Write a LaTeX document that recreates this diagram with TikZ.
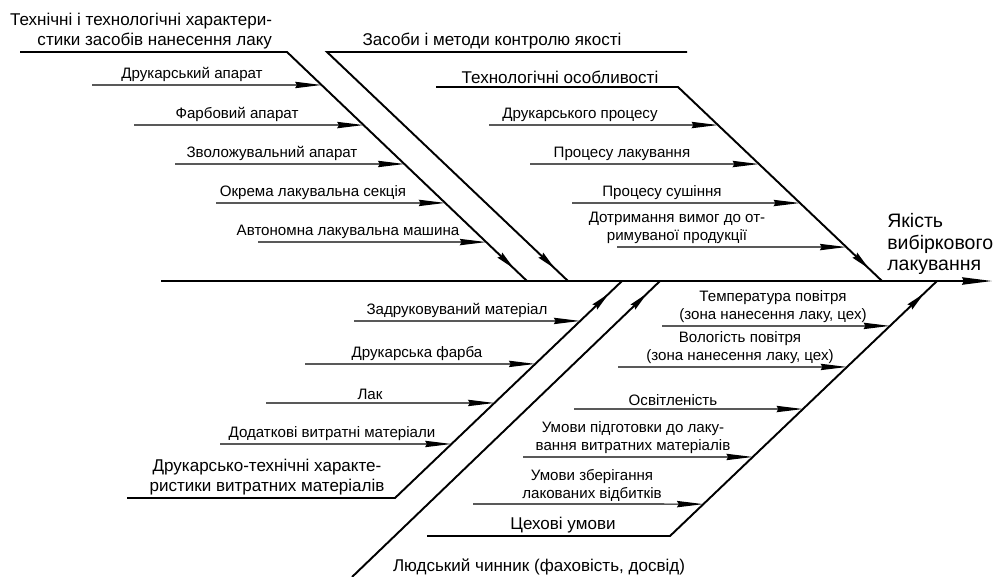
\documentclass[tikz,border=0pt]{standalone}
\usepackage{fontspec}
\setmainfont{Liberation Sans}
\usetikzlibrary{arrows.meta,calc,decorations.markings}

\begin{document}
\begin{tikzpicture}[x=0.02cm,y=-0.02cm]
        \tikzset{myptr/.style={line width=0.7pt,-{Stealth[length=15pt,width=3.6pt,inset=1pt]}},
        midptr/.style={decoration={markings,mark=at position -0.36cm with %
        {\arrow{Stealth[length=11pt,width=3.8pt,inset=1pt]}}},postaction={decorate}},
        bone/.style={line width=1.1pt},
        lbl/.style={anchor=south,inner sep=1.5pt,align=center,font=\fontsize{8.6}{10.2}\selectfont},
        biglbl/.style={anchor=south,inner sep=1.5pt,align=center,font=\fontsize{9.7}{11.3}\selectfont}}

        \useasboundingbox (0,0) rectangle (998,576);

        % spine
        \coordinate (s0) at (161,281);
        \coordinate (s1) at (992,281);
        \draw[line width=0.9pt,-{Stealth[length=17pt,width=4.2pt,inset=1pt]}] (s0) -- (s1);
        \node[anchor=north west,inner sep=0pt,align=left,font=\fontsize{11.1}{12.3}\selectfont] (res) at (887,213) {Якість\\вибіркового\\лакування};

        % upper left bone
        \coordinate (t1h) at (20,52);
        \coordinate (t1a) at (287,52);
        \coordinate (t1b) at (527,281);
        \draw[bone,midptr] (t1h) -- (t1a) -- (t1b);
        \node[biglbl,anchor=south east,align=right] (t1) at (275,52) {Технічні і технологічні характери-\\стики засобів нанесення лаку};
        \coordinate (t1p1) at (92,85);
        \coordinate (t1p2) at (134,125);
        \coordinate (t1p3) at (175,164);
        \coordinate (t1p4) at (216,203);
        \coordinate (t1p5) at (258,242);
        \node[lbl] (t1l1) at (192,85) {Друкарський апарат};
        \node[lbl] (t1l2) at (237,125) {Фарбовий апарат};
        \node[lbl] (t1l3) at (272,164) {Зволожувальний апарат};
        \node[lbl] (t1l4) at (313,203) {Окрема лакувальна секція};
        \node[lbl] (t1l5) at (348,242) {Автономна лакувальна машина};
        \draw[myptr] (t1p1) -- ($(t1a)!0.144!(t1b)$);
        \draw[myptr] (t1p2) -- ($(t1a)!0.319!(t1b)$);
        \draw[myptr] (t1p3) -- ($(t1a)!0.489!(t1b)$);
        \draw[myptr] (t1p4) -- ($(t1a)!0.659!(t1b)$);
        \draw[myptr] (t1p5) -- ($(t1a)!0.830!(t1b)$);

        % quality control bone
        \coordinate (t2h) at (687,52);
        \coordinate (t2a) at (327,52);
        \coordinate (t2b) at (568,281);
        \draw[bone,midptr] (t2h) -- (t2a) -- (t2b);
        \node[biglbl] (t2) at (492,52) {Засоби і методи контролю якості};

        % technology bone
        \coordinate (t3h) at (436,87);
        \coordinate (t3a) at (678,87);
        \coordinate (t3b) at (882,281);
        \draw[bone,midptr] (t3h) -- (t3a) -- (t3b);
        \node[biglbl] (t3) at (560,87) {Технологічні особливості};
        \coordinate (t3p1) at (489,125);
        \coordinate (t3p2) at (530,164);
        \coordinate (t3p3) at (572,203);
        \coordinate (t3p4) at (617,247);
        \node[lbl] (t3l1) at (580,125) {Друкарського процесу};
        \node[lbl] (t3l2) at (622,164) {Процесу лакування};
        \node[lbl] (t3l3) at (662,203) {Процесу сушіння};
        \node[lbl] (t3l4) at (677,247) {Дотримання вимог до от-\\римуваної продукції};
        \draw[myptr] (t3p1) -- ($(t3a)!0.196!(t3b)$);
        \draw[myptr] (t3p2) -- ($(t3a)!0.397!(t3b)$);
        \draw[myptr] (t3p3) -- ($(t3a)!0.598!(t3b)$);
        \draw[myptr] (t3p4) -- ($(t3a)!0.825!(t3b)$);

        % materials bone
        \coordinate (b1h) at (127,498);
        \coordinate (b1a) at (395,498);
        \coordinate (b1b) at (622,281);
        \draw[bone,midptr] (b1h) -- (b1a) -- (b1b);
        \node[biglbl] (b1) at (267,498) {Друкарсько-технічні характе-\\ристики витратних матеріалів};
        \coordinate (b1p1) at (354,321);
        \coordinate (b1p2) at (305,364);
        \coordinate (b1p3) at (266,403);
        \coordinate (b1p4) at (220,444);
        \node[lbl] (b1l1) at (457,321) {Задруковуваний матеріал};
        \node[lbl] (b1l2) at (417,364) {Друкарська фарба};
        \node[lbl] (b1l3) at (370,403) {Лак};
        \node[lbl] (b1l4) at (332,444) {Додаткові витратні матеріали};
        \draw[myptr] (b1p1) -- ($(b1a)!0.816!(b1b)$);
        \draw[myptr] (b1p2) -- ($(b1a)!0.618!(b1b)$);
        \draw[myptr] (b1p3) -- ($(b1a)!0.438!(b1b)$);
        \draw[myptr] (b1p4) -- ($(b1a)!0.249!(b1b)$);

        % human bone
        \coordinate (b2a) at (352,577);
        \coordinate (b2b) at (660,281);
        \draw[bone,midptr] (b2a) -- (b2b);
        \node[biglbl,anchor=base] (b2) at (539,571) {Людський чинник (фаховість, досвід)};

        % shop conditions bone
        \coordinate (b3h) at (427,536);
        \coordinate (b3a) at (670,536);
        \coordinate (b3b) at (937,281);
        \draw[bone,midptr] (b3h) -- (b3a) -- (b3b);
        \node[biglbl] (b3) at (563,536) {Цехові умови};
        \coordinate (b3p1) at (662,326);
        \coordinate (b3p2) at (618,367);
        \coordinate (b3p3) at (574,409);
        \coordinate (b3p4) at (523,457);
        \coordinate (b3p5) at (473,504);
        \node[lbl] (b3l1) at (773,326) {Температура повітря\\(зона нанесення лаку, цех)};
        \node[lbl] (b3l2) at (740,367) {Вологість повітря\\(зона нанесення лаку, цех)};
        \node[lbl] (b3l3) at (673,409) {Освітленість};
        \node[lbl] (b3l4) at (633,457) {Умови підготовки до лаку-\\вання витратних матеріалів};
        \node[lbl] (b3l5) at (592,504) {Умови зберігання\\лакованих відбитків};
        \draw[myptr] (b3p1) -- ($(b3a)!0.824!(b3b)$);
        \draw[myptr] (b3p2) -- ($(b3a)!0.663!(b3b)$);
        \draw[myptr] (b3p3) -- ($(b3a)!0.498!(b3b)$);
        \draw[myptr] (b3p4) -- ($(b3a)!0.310!(b3b)$);
        \draw[myptr] (b3p5) -- ($(b3a)!0.125!(b3b)$);
    \end{tikzpicture}
\end{document}
